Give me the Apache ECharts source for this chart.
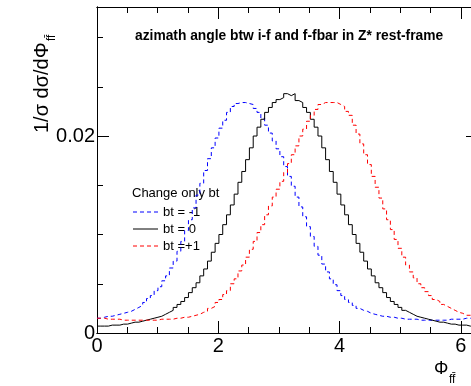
<!DOCTYPE html>
<html>
<head>
<meta charset="utf-8">
<script src="https://cdn.jsdelivr.net/npm/echarts@6/dist/echarts.min.js"></script>
<style>
html,body{margin:0;padding:0;background:#fff;}
#c{width:471px;height:386px;}
</style>
</head>
<body>
<div id="c"></div>
<script>
// ---- data ----
const PHI_MAX = 2 * Math.PI;
const Y_MAX = 0.0331;
const xTickValues = [0, 2, 4, 6];
const xTickLabels = ['0', '2', '4', '6'];
const yTickValues = [0, 0.02];
const yTickLabels = ['0', '0.02'];
const seriesNames = ['bt = -1', 'bt = 0', 'bt =+1'];

// bt = 0 : 100 bins over [0, 2pi]
const bt0 = [
  0.0007,0.0007,0.0007,0.0008,0.0008,0.0008,0.0009,0.0009,0.0010,0.0011,
  0.0011,0.0012,0.0013,0.0014,0.0015,0.0016,0.0017,0.0019,0.0021,0.0023,
  0.0026,0.0029,0.0032,0.0036,0.0041,0.0046,0.0051,0.0058,0.0065,0.0073,
  0.0082,0.0091,0.0100,0.0110,0.0120,0.0130,0.0141,0.0153,0.0164,0.0176,
  0.0188,0.0200,0.0209,0.0217,0.0224,0.0229,0.0234,0.0237,0.0239,0.0243,
  0.0241,0.0243,0.0236,0.0234,0.0229,0.0224,0.0217,0.0209,0.0200,0.0188,
  0.0176,0.0164,0.0153,0.0141,0.0130,0.0120,0.0110,0.0100,0.0091,0.0082,
  0.0073,0.0065,0.0058,0.0051,0.0046,0.0041,0.0036,0.0032,0.0029,0.0026,
  0.0023,0.0021,0.0019,0.0017,0.0016,0.0015,0.0014,0.0013,0.0012,0.0011,
  0.0011,0.0010,0.0009,0.0009,0.0008,0.0008,0.0008,0.0007,0.0007,0.0007
];
// bt = -1 : 100 bins
const btMinus1 = [
  0.0015,0.0016,0.0017,0.0017,0.0018,0.0019,0.0020,0.0021,0.0022,0.0024,
  0.0026,0.0028,0.0031,0.0035,0.0038,0.0043,0.0047,0.0053,0.0058,0.0066,
  0.0073,0.0083,0.0093,0.0104,0.0115,0.0127,0.0140,0.0152,0.0165,0.0177,
  0.0188,0.0198,0.0208,0.0216,0.0224,0.0230,0.0233,0.0234,0.0234,0.0233,
  0.0232,0.0228,0.0224,0.0218,0.0211,0.0203,0.0195,0.0187,0.0179,0.0169,
  0.0159,0.0149,0.0138,0.0128,0.0118,0.0108,0.0098,0.0088,0.0079,0.0070,
  0.0062,0.0055,0.0049,0.0043,0.0038,0.0034,0.0031,0.0028,0.0025,0.0023,
  0.0022,0.0020,0.0019,0.0018,0.0017,0.0017,0.0016,0.0016,0.0015,0.0015,
  0.0014,0.0014,0.0014,0.0014,0.0013,0.0013,0.0013,0.0013,0.0013,0.0013,
  0.0013,0.0013,0.0014,0.0014,0.0014,0.0014,0.0015,0.0015,0.0015,0.0015
];
// bt = +1 : 100 bins
const btPlus1 = [
  0.0015,0.0015,0.0014,0.0014,0.0014,0.0014,0.0013,0.0013,0.0013,0.0013,
  0.0013,0.0013,0.0013,0.0013,0.0013,0.0013,0.0014,0.0014,0.0014,0.0014,
  0.0015,0.0015,0.0016,0.0016,0.0017,0.0018,0.0019,0.0021,0.0022,0.0025,
  0.0027,0.0031,0.0034,0.0039,0.0043,0.0050,0.0055,0.0063,0.0069,0.0077,
  0.0085,0.0093,0.0102,0.0110,0.0120,0.0129,0.0138,0.0146,0.0154,0.0163,
  0.0172,0.0181,0.0190,0.0200,0.0207,0.0215,0.0221,0.0227,0.0232,0.0234,
  0.0234,0.0234,0.0234,0.0232,0.0230,0.0225,0.0221,0.0211,0.0202,0.0192,
  0.0181,0.0171,0.0159,0.0148,0.0137,0.0126,0.0115,0.0105,0.0095,0.0086,
  0.0077,0.0069,0.0062,0.0056,0.0050,0.0046,0.0042,0.0038,0.0034,0.0032,
  0.0029,0.0027,0.0025,0.0023,0.0021,0.0020,0.0018,0.0018,0.0017,0.0016
];

// ---- helpers ----
function histData(vals) {
  const w = PHI_MAX / vals.length;
  const d = vals.map((v, i) => [i * w, v]);
  d.push([PHI_MAX, vals[vals.length - 1]]);
  return d;
}
function labelFor(values, labels) {
  return function (v) {
    for (let i = 0; i < values.length; i++) {
      if (Math.abs(v - values[i]) < 1e-9) return labels[i];
    }
    return '';
  };
}

const FONT = 'Liberation Sans, Arial, Helvetica, sans-serif';
const black = '#000';

function xAxisDef(pos, interval, len, withLabels) {
  return {
    type: 'value', position: pos, min: 0, max: PHI_MAX, interval: interval,
    axisLine: { show: true, onZero: false, lineStyle: { color: black, width: 1 } },
    axisTick: { show: true, inside: true, length: len, lineStyle: { color: black, width: 1 } },
    axisLabel: withLabels ? {
      show: true, formatter: labelFor(xTickValues, xTickLabels), color: black,
      fontSize: 20, fontFamily: FONT, margin: 3, showMaxLabel: true, showMinLabel: true
    } : { show: false },
    splitLine: { show: false }
  };
}
function yAxisDef(pos, interval, len, withLabels) {
  return {
    type: 'value', position: pos, min: 0, max: Y_MAX, interval: interval,
    axisLine: { show: true, onZero: false, lineStyle: { color: black, width: 1 } },
    axisTick: { show: true, inside: true, length: len, lineStyle: { color: black, width: 1 } },
    axisLabel: withLabels ? {
      show: true, formatter: labelFor(yTickValues, yTickLabels), color: black,
      fontSize: 20, fontFamily: FONT, margin: 2, showMaxLabel: false, showMinLabel: true
    } : { show: false },
    splitLine: { show: false }
  };
}

const chart = echarts.init(document.getElementById('c'), null, { renderer: 'canvas' });

const legendX = 133, legendTextX = 163;
const legendRows = [212, 229, 246];
const legendColors = ['#0000ff', '#000000', '#ff0000'];
const legendDash = [[4, 3], 'solid', [4, 3]];

const graphics = [
  { type: 'text', x: 135, y: 36,
    style: { text: 'azimath angle btw i-f and f-fbar in Z* rest-frame', fill: black,
      font: 'bold 13.8px ' + FONT, textAlign: 'left', textVerticalAlign: 'middle' } },
  // y-axis title (rotated)
  { type: 'text', x: 42, y: 133, rotation: Math.PI / 2,
    style: { text: '1/\u03c3 d\u03c3/d\u03a6', fill: black, font: '20px ' + FONT,
      textAlign: 'left', textVerticalAlign: 'middle' } },
  { type: 'text', x: 52, y: 41, rotation: Math.PI / 2,
    style: { text: 'ff\u0304', fill: black, font: '12px ' + FONT,
      textAlign: 'left', textVerticalAlign: 'middle' } },
  // x-axis title
  { type: 'text', x: 434, y: 369,
    style: { text: '\u03a6', fill: black, font: '18px ' + FONT,
      textAlign: 'left', textVerticalAlign: 'middle' } },
  { type: 'text', x: 449, y: 380,
    style: { text: 'ff\u0304', fill: black, font: '12px ' + FONT,
      textAlign: 'left', textVerticalAlign: 'middle' } },
  // legend header
  { type: 'text', x: 132, y: 193,
    style: { text: 'Change only bt', fill: black, font: '13px ' + FONT,
      textAlign: 'left', textVerticalAlign: 'middle' } }
];
seriesNames.forEach((n, i) => {
  graphics.push({ type: 'line', shape: { x1: legendX, y1: legendRows[i], x2: legendX + 25, y2: legendRows[i] },
    style: { stroke: legendColors[i], lineWidth: 1, lineDash: legendDash[i] === 'solid' ? null : legendDash[i] } });
  graphics.push({ type: 'text', x: legendTextX, y: legendRows[i],
    style: { text: n, fill: black, font: '13px ' + FONT, textAlign: 'left', textVerticalAlign: 'middle' } });
});

const option = {
  animation: false,
  backgroundColor: '#fff',
  grid: { left: 97, top: 7, width: 381, height: 326, containLabel: false, outerBoundsMode: 'none', show: false },
  xAxis: [
    xAxisDef('bottom', 2, 12, true),
    xAxisDef('top', 2, 12, false),
    xAxisDef('bottom', 0.5, 6, false),
    xAxisDef('top', 0.5, 6, false)
  ],
  yAxis: [
    yAxisDef('left', 0.02, 12, true),
    yAxisDef('right', 0.02, 12, false),
    yAxisDef('left', 0.005, 6, false),
    yAxisDef('right', 0.005, 6, false)
  ],
  series: [
    { name: seriesNames[0], type: 'line', step: 'end', data: histData(btMinus1),
      showSymbol: false, symbol: 'none', clip: true,
      lineStyle: { color: '#0000ff', width: 1, type: [4, 3] } },
    { name: seriesNames[1], type: 'line', step: 'end', data: histData(bt0),
      showSymbol: false, symbol: 'none', clip: true,
      lineStyle: { color: '#000000', width: 1, type: 'solid' } },
    { name: seriesNames[2], type: 'line', step: 'end', data: histData(btPlus1),
      showSymbol: false, symbol: 'none', clip: true,
      lineStyle: { color: '#ff0000', width: 1, type: [4, 3] } }
  ],
  graphic: graphics
};
chart.setOption(option);
</script>
</body>
</html>
